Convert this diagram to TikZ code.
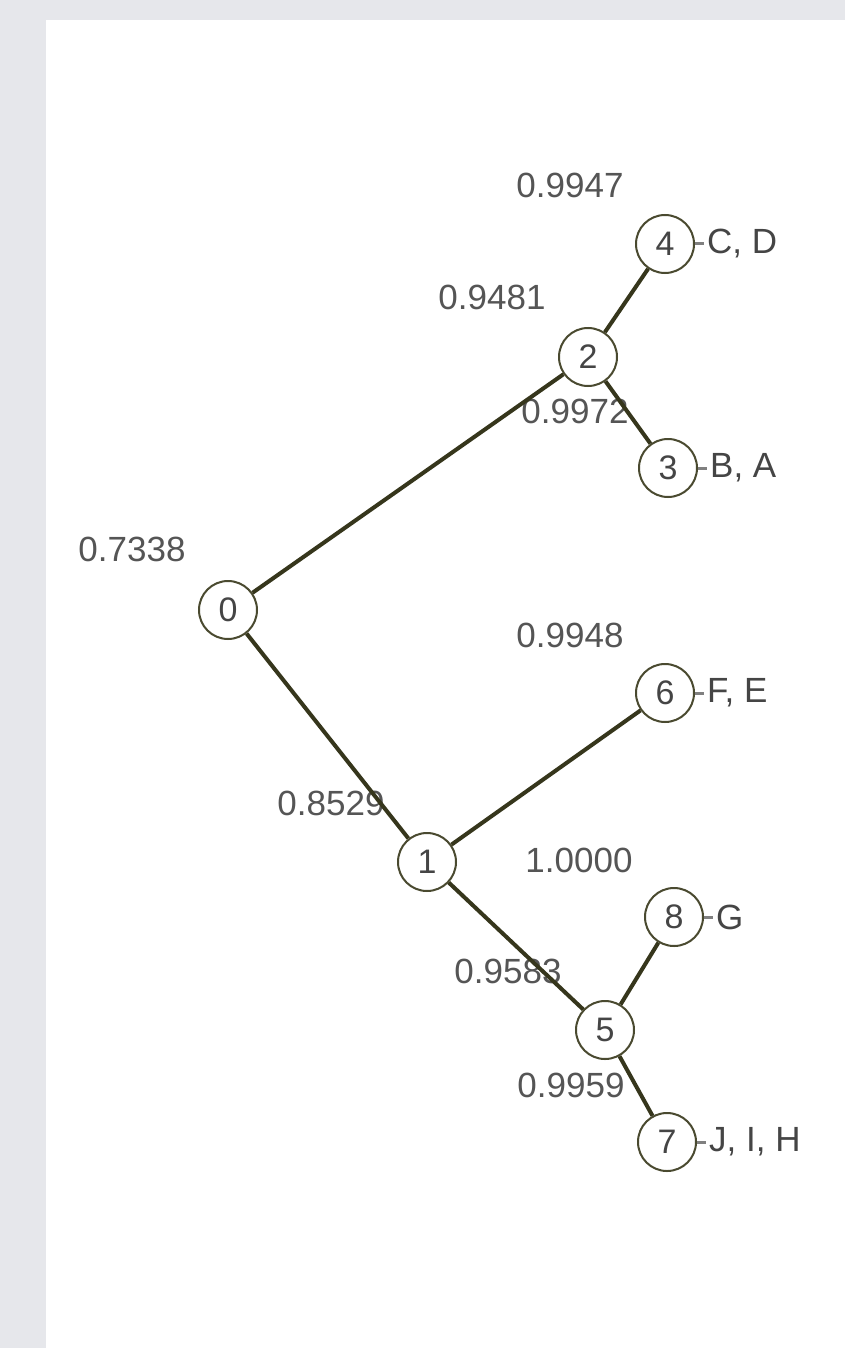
\documentclass[tikz,border=0pt]{standalone}
\usepackage{fontspec}
\setmainfont{Liberation Sans}
\usetikzlibrary{calc}
\definecolor{bggray}{HTML}{E6E7EB}
\definecolor{edgec}{HTML}{36361C}
\definecolor{circc}{HTML}{4A4A30}
\definecolor{txtc}{HTML}{454545}
\definecolor{valc}{HTML}{555555}
\begin{document}
\begin{tikzpicture}[x=1pt,y=-1pt,
  treenode/.style={circle,draw=circc,line width=2pt,fill=white,minimum size=58pt,inner sep=0pt,text=txtc,font=\fontsize{34}{40}\selectfont},
  leaflabel/.style={anchor=west,inner sep=0pt,text=txtc,font=\fontsize{35}{40}\selectfont},
  vallabel/.style={inner sep=0pt,text=valc,font=\fontsize{35}{40}\selectfont},
  edge/.style={draw=edgec,line width=4pt},
  tick/.style={draw=gray,line width=3pt}]
\useasboundingbox (0,0) rectangle (845,1348);
\fill[bggray] (0,0) rectangle (845,1348);
\fill[white] (46,20) rectangle (845,1348);
% node positions
\coordinate (p0) at (228,610);
\coordinate (p1) at (427,862);
\coordinate (p2) at (588,357);
\coordinate (p3) at (668,468);
\coordinate (p4) at (665,244);
\coordinate (p5) at (605,1030);
\coordinate (p6) at (665,693);
\coordinate (p7) at (667,1142);
\coordinate (p8) at (674,917);
% value labels
\node[vallabel] (v0) at ($(p0)+(-96,-61)$) {0.7338};
\node[vallabel] (v1) at ($(p1)+(-96,-59)$) {0.8529};
\node[vallabel] (v2) at ($(p2)+(-96,-60)$) {0.9481};
\node[vallabel] (v3) at ($(p3)+(-93,-57)$) {0.9972};
\node[vallabel] (v4) at ($(p4)+(-95,-59)$) {0.9947};
\node[vallabel] (v5) at ($(p5)+(-97,-59)$) {0.9583};
\node[vallabel] (v6) at ($(p6)+(-95,-58)$) {0.9948};
\node[vallabel] (v7) at ($(p7)+(-96,-57)$) {0.9959};
\node[vallabel] (v8) at ($(p8)+(-95,-57)$) {1.0000};
% circles
\node[treenode] (n0) at (p0) {0};
\node[treenode] (n1) at (p1) {1};
\node[treenode] (n2) at (p2) {2};
\node[treenode] (n3) at (p3) {3};
\node[treenode] (n4) at (p4) {4};
\node[treenode] (n5) at (p5) {5};
\node[treenode] (n6) at (p6) {6};
\node[treenode] (n7) at (p7) {7};
\node[treenode] (n8) at (p8) {8};
% edges
\draw[edge] (n0) -- (n2);
\draw[edge] (n0) -- (n1);
\draw[edge] (n2) -- (n4);
\draw[edge] (n2) -- (n3);
\draw[edge] (n1) -- (n6);
\draw[edge] (n1) -- (n5);
\draw[edge] (n5) -- (n8);
\draw[edge] (n5) -- (n7);
% leaf labels
\node[leaflabel] (l4) at ($(n4.east)+(12,0)$) {C, D};
\node[leaflabel] (l3) at ($(n3.east)+(12,0)$) {B, A};
\node[leaflabel] (l6) at ($(n6.east)+(12,0)$) {F, E};
\node[leaflabel] (l8) at ($(n8.east)+(12,0)$) {G};
\node[leaflabel] (l7) at ($(n7.east)+(12,0)$) {J, I, H};
\draw[tick] (n4.east) -- ++(9,0);
\draw[tick] (n3.east) -- ++(9,0);
\draw[tick] (n6.east) -- ++(9,0);
\draw[tick] (n8.east) -- ++(9,0);
\draw[tick] (n7.east) -- ++(9,0);
\end{tikzpicture}
\end{document}
